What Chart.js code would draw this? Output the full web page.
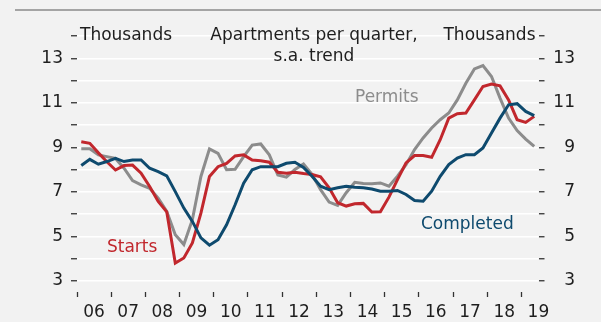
<!DOCTYPE html>
<html>
<head>
<meta charset="utf-8">
<title>Apartments per quarter</title>
<script src="https://cdn.jsdelivr.net/npm/chart.js@4/dist/chart.umd.min.js"></script>
<style>
	html, body { margin: 0; padding: 0; background: #f2f2f2; }
	canvas { display: block; }
</style>
</head>
<body>
<canvas id="apartmentsChart" width="601" height="322"></canvas>
<script>
// Quarterly series, thousands of apartments, s.a. trend, 2006Q1 - 2019Q2
const firstYear = 2006;
const yearTicks = [2006, 2007, 2008, 2009, 2010, 2011, 2012, 2013, 2014, 2015, 2016, 2017, 2018, 2019];
const valueTicks = [3, 4, 5, 6, 7, 8, 9, 10, 11, 12, 13, 14];

const starts = [
	9.25, 9.18, 8.75, 8.35, 7.98, 8.18, 8.2, 7.84, 7.24, 6.57, 6.1, 3.8, 4.03, 4.7,
	6.04, 7.69, 8.13, 8.28, 8.61, 8.66, 8.43, 8.4, 8.33, 7.88, 7.84, 7.88, 7.82, 7.78,
	7.67, 7.18, 6.51, 6.36, 6.46, 6.48, 6.09, 6.1, 6.76, 7.55, 8.3, 8.63, 8.63, 8.55,
	9.34, 10.31, 10.51, 10.54, 11.13, 11.73, 11.84, 11.76, 11.13, 10.24, 10.12, 10.39
];
const permits = [
	8.93, 8.93, 8.66, 8.58, 8.5, 8.06, 7.5, 7.31, 7.16, 6.72, 6.12, 5.07, 4.63, 5.75,
	7.69, 8.93, 8.73, 7.99, 8.01, 8.58, 9.1, 9.15, 8.66, 7.76, 7.66, 8.0, 8.25, 7.78,
	7.1, 6.54, 6.39, 6.96, 7.43, 7.37, 7.36, 7.4, 7.25, 7.7, 8.22, 8.9, 9.42, 9.87,
	10.24, 10.54, 11.13, 11.88, 12.52, 12.67, 12.18, 11.21, 10.31, 9.75, 9.37, 9.04
];
const completed = [
	8.18, 8.46, 8.24, 8.36, 8.5, 8.36, 8.43, 8.43, 8.06, 7.91, 7.72, 7.01, 6.27, 5.67,
	4.93, 4.6, 4.85, 5.52, 6.42, 7.39, 7.99, 8.13, 8.13, 8.13, 8.28, 8.33, 8.1, 7.7,
	7.25, 7.1, 7.18, 7.25, 7.21, 7.18, 7.13, 7.03, 7.03, 7.06, 6.88, 6.61, 6.58, 7.03,
	7.7, 8.22, 8.52, 8.67, 8.67, 8.97, 9.64, 10.31, 10.91, 10.96, 10.61, 10.42
];

const colors = {
	starts: '#c1272d',
	permits: '#8c8c8c',
	completed: '#0e4a6e',
	text: '#1e1e1e',
	background: '#f2f2f2'
};

const fontFamily = '"DejaVu Sans", sans-serif';
const fontSize = 17;

// each quarter sits in the middle of its slot on the year axis
const toPoints = values => values.map((v, i) => ({ x: firstYear + (i + 0.5) / 4, y: v }));

const lineDataset = (label, values, color) => ({
	label,
	data: toPoints(values),
	borderColor: color,
	backgroundColor: color,
	borderWidth: 3,
	pointRadius: 0,
	tension: 0,
	fill: false
});

const decorations = {
	id: 'decorations',
	beforeDraw(chart) {
		const { ctx, width, height } = chart;
		ctx.save();
		ctx.fillStyle = colors.background;
		ctx.fillRect(0, 0, width, height);
		ctx.strokeStyle = '#8a8a8a';
		ctx.lineWidth = 1.5;
		ctx.beginPath();
		ctx.moveTo(15, 10);
		ctx.lineTo(width, 10);
		ctx.stroke();
		ctx.restore();
	},
	afterDraw(chart) {
		const { ctx, chartArea } = chart;
		const top = chart.scales.y.getPixelForValue(14);
		ctx.save();
		ctx.font = fontSize + 'px ' + fontFamily;
		ctx.textBaseline = 'middle';
		ctx.fillStyle = colors.text;

		ctx.textAlign = 'left';
		ctx.fillText('Thousands', chartArea.left + 3, top);
		ctx.textAlign = 'right';
		ctx.fillText('Thousands', chartArea.right - 3, top);

		ctx.textAlign = 'center';
		ctx.fillText('Apartments per quarter,', 314, top);
		ctx.fillText('s.a. trend', 314, top + 21);

		ctx.textAlign = 'left';
		ctx.fillStyle = colors.permits;
		ctx.fillText('Permits', 355, 98);
		ctx.fillStyle = colors.starts;
		ctx.fillText('Starts', 107, 248);
		ctx.fillStyle = colors.completed;
		ctx.fillText('Completed', 421, 225);
		ctx.restore();
	}
};

const valueAxis = position => ({
	type: 'linear',
	position,
	min: 2.5,
	max: 14,
	afterBuildTicks: scale => { scale.ticks = valueTicks.map(value => ({ value })); },
	afterFit: scale => { scale.width = position === 'left' ? 77 : 36.5; },
	border: { display: false },
	grid: {
		drawOnChartArea: position === 'left',
		color: '#ffffff',
		lineWidth: 1.5,
		tickColor: '#333333',
		tickLength: 6,
		tickWidth: 1.3
	},
	ticks: {
		autoSkip: false,
		padding: 8,
		crossAlign: position === 'left' ? 'near' : 'far',
		color: colors.text,
		font: { size: fontSize },
		callback: value => (value % 2 === 1 ? String(value) : '')
	}
});

Chart.defaults.font.family = fontFamily;

new Chart(document.getElementById('apartmentsChart'), {
	type: 'line',
	data: {
		datasets: [
			lineDataset('Completed', completed, colors.completed),
			lineDataset('Starts', starts, colors.starts),
			lineDataset('Permits', permits, colors.permits)
		]
	},
	options: {
		responsive: false,
		animation: false,
		layout: { padding: { top: 36, right: 26, left: 0, bottom: 0 } },
		plugins: {
			legend: { display: false },
			tooltip: { enabled: false }
		},
		scales: {
			x: {
				type: 'linear',
				min: 2006,
				max: 2019.5,
				afterBuildTicks: scale => { scale.ticks = yearTicks.map(value => ({ value })); },
				afterFit: scale => { scale.height = 30; },
				border: { display: false },
				grid: {
					drawOnChartArea: false,
					tickColor: '#333333',
					tickLength: 5,
					tickWidth: 1.3
				},
				ticks: {
					padding: 5,
					labelOffset: 17,
					maxRotation: 0,
					autoSkip: false,
					color: colors.text,
					font: { size: fontSize },
					callback: value => String(value).slice(2)
				}
			},
			y: valueAxis('left'),
			y2: valueAxis('right')
		}
	},
	plugins: [decorations]
});
</script>
</body>
</html>
